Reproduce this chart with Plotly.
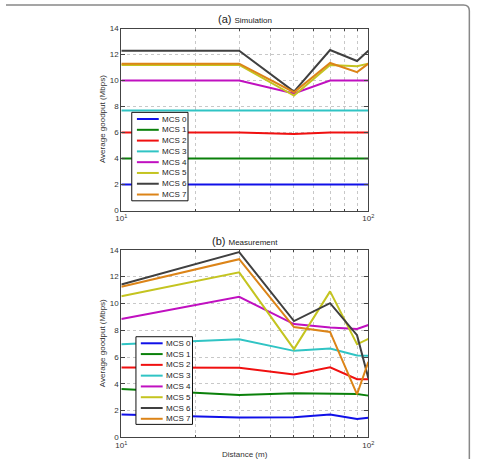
import plotly.graph_objects as go

W, H = 477, 464

distance = [10, 30, 50, 70, 90, 100]
series_names = ["MCS 0", "MCS 1", "MCS 2", "MCS 3", "MCS 4", "MCS 5", "MCS 6", "MCS 7"]
colors = ["#1010e8", "#0a800a", "#f01010", "#30c4c4", "#c010c0", "#c4c420", "#404040", "#dc8418"]

sim_mcs0 = [2.0, 2.0, 2.0, 2.0, 2.0, 2.0]
sim_mcs1 = [4.0, 4.0, 4.0, 4.0, 4.0, 4.0]
sim_mcs2 = [6.0, 6.0, 5.9, 6.0, 6.0, 6.0]
sim_mcs3 = [7.7, 7.7, 7.68, 7.7, 7.7, 7.7]
sim_mcs4 = [10.0, 10.0, 9.0, 10.0, 10.0, 10.0]
sim_mcs5 = [11.2, 11.2, 8.85, 11.2, 11.1, 11.3]
sim_mcs6 = [12.3, 12.3, 9.15, 12.35, 11.5, 12.3]
sim_mcs7 = [11.3, 11.3, 9.1, 11.35, 10.65, 11.3]

meas_mcs0 = [1.71, 1.49, 1.51, 1.71, 1.37, 1.46]
meas_mcs1 = [3.61, 3.17, 3.29, 3.29, 3.24, 3.12]
meas_mcs2 = [5.22, 5.2, 4.7, 5.24, 4.34, 4.34]
meas_mcs3 = [6.95, 7.32, 6.46, 6.63, 6.12, 6.1]
meas_mcs4 = [8.83, 10.49, 8.46, 8.2, 8.1, 8.39]
meas_mcs5 = [10.54, 12.32, 6.59, 10.9, 6.95, 7.35]
meas_mcs6 = [11.41, 13.83, 8.68, 10.02, 7.63, 4.41]
meas_mcs7 = [11.24, 13.3, 8.24, 7.87, 3.22, 5.64]

sim = [sim_mcs0, sim_mcs1, sim_mcs2, sim_mcs3, sim_mcs4, sim_mcs5, sim_mcs6, sim_mcs7]
meas = [meas_mcs0, meas_mcs1, meas_mcs2, meas_mcs3, meas_mcs4, meas_mcs5, meas_mcs6, meas_mcs7]

x_tickvals = [10, 100]
x_ticktext = ["10<sup>1</sup>", "10<sup>2</sup>"]
x_minorvals = [20, 30, 40, 50, 60, 70, 80, 90]
y_tickvals = [0, 2, 4, 6, 8, 10, 12, 14]


def X(px):
    return px / W


def Y(py):
    return 1 - py / H


FONT = "Liberation Sans, Arial, sans-serif"
AX_COL = "#444444"
GRID_COL = "#c8c8c8"

fig = go.Figure()

for data, xa, ya in [(sim, "x", "y"), (meas, "x2", "y2")]:
    for name, col, vals in zip(series_names, colors, data):
        fig.add_trace(go.Scatter(
            x=distance, y=vals, mode="lines", name=name,
            line=dict(color=col, width=2), xaxis=xa, yaxis=ya, showlegend=False,
        ))

xdom = [X(118.3), X(371.7)]
axis_common = dict(
    showline=True, linecolor=AX_COL, linewidth=1, mirror="ticks",
    ticks="inside", ticklen=4, tickcolor=AX_COL,
    showgrid=True, gridcolor=GRID_COL, griddash="dot", gridwidth=1,
    zeroline=False, tickfont=dict(family=FONT, size=8, color="#333333"),
)
x_minor = dict(tickvals=x_minorvals, ticks="inside", ticklen=2, tickcolor=AX_COL,
               showgrid=True, gridcolor=GRID_COL, griddash="dot", gridwidth=1)

fig.update_layout(
    width=W, height=H, margin=dict(l=0, r=0, t=0, b=0),
    paper_bgcolor="white", plot_bgcolor="white",
    xaxis=dict(domain=xdom, type="log", range=[1, 2], tickvals=x_tickvals,
               ticktext=x_ticktext, anchor="y", minor=x_minor, **axis_common),
    yaxis=dict(domain=[Y(210.7), Y(25)], range=[0, 14], tickvals=y_tickvals,
               anchor="x", **axis_common),
    xaxis2=dict(domain=xdom, type="log", range=[1, 2], tickvals=x_tickvals,
                ticktext=x_ticktext, anchor="y2", minor=x_minor, **axis_common),
    yaxis2=dict(domain=[Y(442), Y(250.7)], range=[0, 14], tickvals=y_tickvals,
                anchor="x2", **axis_common),
    showlegend=False,
)

shapes = []
annotations = []

for txt, sub, py in [("(a)", "Simulation", 15.7), ("(b)", "Measurement", 241.7)]:
    annotations.append(dict(
        x=X(245), y=Y(py), xref="paper", yref="paper", showarrow=False,
        text=f"{txt} <span style='font-size:8px'>{sub}</span>",
        font=dict(family=FONT, size=11, color="#222222"), xanchor="center", yanchor="middle",
    ))

for py in [(25 + 210.7) / 2, (250.7 + 442) / 2]:
    annotations.append(dict(
        x=X(99), y=Y(py), xref="paper", yref="paper", showarrow=False,
        text="Average goodput (Mbps)", textangle=-90,
        font=dict(family=FONT, size=8, color="#333333"), xanchor="center", yanchor="middle",
    ))

annotations.append(dict(
    x=X(245), y=Y(459.5), xref="paper", yref="paper", showarrow=False,
    text="Distance (m)", font=dict(family=FONT, size=8, color="#333333"),
    xanchor="center", yanchor="middle",
))

for box, row0, line_x0, line_x1, text_x in [
    ((129, 110.5, 186.7, 200.7), 117.3, 134.3, 156.7, 158.3),
    ((133.3, 339.3, 191.3, 428.7), 346.0, 138.3, 160.7, 162.3),
]:
    x0, y0, x1, y1 = box
    shapes.append(dict(type="rect", xref="paper", yref="paper", layer="above",
                       x0=X(x0), x1=X(x1), y0=Y(y1), y1=Y(y0),
                       line=dict(color="#111111", width=1), fillcolor="white"))
    for i, (name, col) in enumerate(zip(series_names, colors)):
        py = row0 + i * 11.0
        shapes.append(dict(type="line", xref="paper", yref="paper", layer="above",
                           x0=X(line_x0), x1=X(line_x1), y0=Y(py), y1=Y(py),
                           line=dict(color=col, width=2)))
        annotations.append(dict(
            x=X(text_x), y=Y(py), xref="paper", yref="paper", showarrow=False,
            text=name, font=dict(family=FONT, size=8, color="#222222"),
            xanchor="left", yanchor="middle",
        ))

r = 6
path = (f"M {X(0)},{Y(1)} L {X(475.3 - r)},{Y(1)} "
        f"Q {X(475.3)},{Y(1)} {X(475.3)},{Y(1 + r)} L {X(475.3)},{Y(464)}")
shapes.append(dict(type="path", path=path, xref="paper", yref="paper",
                   line=dict(color="#888888", width=1.5), layer="above"))

fig.update_layout(shapes=shapes, annotations=annotations)

fix_margin = "document.body.style.margin='0';document.body.style.padding='0';document.body.style.overflow='hidden';"
fig.write_html("out.html", post_script=fix_margin)
